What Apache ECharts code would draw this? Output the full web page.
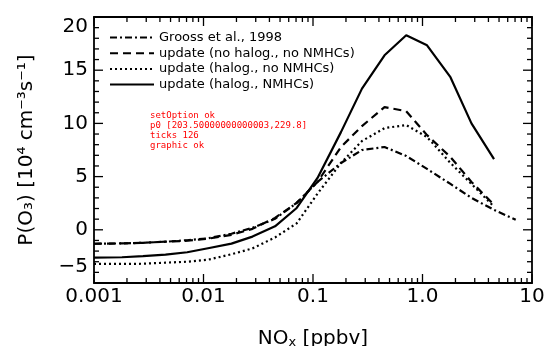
<!DOCTYPE html>
<html>
<head>
<meta charset="utf-8">
<script src="https://cdn.jsdelivr.net/npm/echarts@6/dist/echarts.min.js"></script>
<style>
  html, body { margin: 0; padding: 0; background: #fff; }
  #chart { width: 547px; height: 346px; background: #fff; }
  #log { position: absolute; left: 150px; top: 110px; width: 380px; font: 9px monospace; color: red; }
</style>
</head>
<body>
<div id="chart"></div>
<div id="log"></div>
<script>
function logMsg(m) { document.getElementById('log').innerHTML += String(m).slice(0, 300) + '<br>'; }
window.onerror = function (m) { logMsg('onerror: ' + m); };

// NOx grid [ppbv]
var nox = [0.001, 0.0018, 0.0028, 0.0045, 0.0071, 0.011, 0.018, 0.028, 0.045, 0.071,
           0.11, 0.18, 0.28, 0.45, 0.71, 1.1, 1.8, 2.8, 4.5, 7.1];
// P(O3) [10^4 cm^-3 s^-1]
var grooss1998 = [-1.31, -1.28, -1.22, -1.12, -0.98, -0.80, -0.37, 0.19, 1.03, 2.53,
                  4.5, 6.28, 7.5, 7.78, 6.94, 5.72, 4.31, 3.0, 1.87, 0.94];
var noHalogNoNmhc = [-1.31, -1.28, -1.22, -1.12, -1.03, -0.84, -0.47, 0.09, 1.12, 2.53,
                     4.5, 7.78, 9.75, 11.53, 11.15, 8.9, 6.84, 4.5, 2.34, null];
var halogNoNmhc = [-3.21, -3.21, -3.19, -3.09, -3.0, -2.81, -2.3, -1.75, -0.72, 0.61,
                   3.4, 6.28, 8.34, 9.56, 9.84, 8.72, 6.28, 4.31, 2.18, null];
var halogNmhc = [-2.62, -2.58, -2.48, -2.34, -2.11, -1.73, -1.3, -0.64, 0.33, 2.05,
                 4.87, 9.18, 13.27, 16.4, 18.28, 17.34, 14.34, 10.0, 6.65, null];

var seriesNames = ['Grooss et al., 1998', 'update (no halog., no NMHCs)',
                   'update (halog., no NMHCs)', 'update (halog., NMHCs)'];
var xTickLabels = ['0.001', '0.01', '0.1', '1.0', '10'];
var xMajor = [0.001, 0.01, 0.1, 1, 10];
var minorSteps = [2, 3, 4, 5, 6, 7, 8, 9];
var yMajor = [-5, 0, 5, 10, 15, 20];
var yMinor = [-4, -3, -2, -1, 1, 2, 3, 4, 6, 7, 8, 9, 11, 12, 13, 14, 16, 17, 18, 19];

var X0 = 0.001, X1 = 10, Y0 = -5, Y1 = 20;

function pairs(ys) {
    var out = [];
    for (var i = 0; i < nox.length; i++) {
        if (ys[i] !== null) out.push([nox[i], ys[i]]);
    }
    return out;
}

var xMinor = [];
for (var d = 0; d < 4; d++) {
    for (var m = 0; m < minorSteps.length; m++) xMinor.push(xMajor[d] * minorSteps[m]);
}

var FONT = 'DejaVu Sans';
var axisLineStyle = { color: '#000', width: 1.8 };

var chart = echarts.init(document.getElementById('chart'));
try {
chart.setOption({
    animation: false,
    grid: { left: 94, right: 15, top: 17, bottom: 63, outerBoundsMode: 'none' },
    legend: {
        orient: 'vertical',
        left: 109,
        top: 31,
        padding: 0,
        itemWidth: 44,
        itemHeight: 14,
        itemGap: 2.7,
        selectedMode: false,
        data: seriesNames,
        itemStyle: { opacity: 0 },
        textStyle: { fontFamily: FONT, fontSize: 13, color: '#000' }
    },
    xAxis: [{
        type: 'log',
        logBase: 10,
        min: X0,
        max: X1,
        axisLine: { show: true, onZero: false, lineStyle: axisLineStyle },
        axisTick: { show: false },
        splitLine: { show: false },
        axisLabel: {
            margin: 4,
            fontFamily: FONT,
            fontSize: 20,
            color: '#000',
            formatter: function (v) {
                return xTickLabels[Math.round(Math.log10(v)) + 3] || '';
            }
        },
        name: '{n|NO}{s|x}{n| [ppbv]}',
        nameLocation: 'middle',
        nameGap: 45,
        nameTextStyle: {
            rich: {
                n: { fontFamily: FONT, fontSize: 20, color: '#000' },
                s: { fontFamily: FONT, fontSize: 13, color: '#000', verticalAlign: 'bottom', padding: [8, 0, 0, 0] }
            }
        }
    }, {
        type: 'log',
        logBase: 10,
        min: X0,
        max: X1,
        position: 'top',
        axisLine: { show: true, onZero: false, lineStyle: axisLineStyle },
        axisTick: { show: false },
        axisLabel: { show: false },
        splitLine: { show: false }
    }],
    yAxis: [{
        type: 'value',
        min: Y0,
        max: Y1,
        interval: 5,
        axisLine: { show: true, onZero: false, lineStyle: axisLineStyle },
        axisTick: { show: false },
        splitLine: { show: false },
        axisLabel: {
            margin: 6,
            fontFamily: FONT,
            fontSize: 20,
            color: '#000',
            formatter: function (v) {
                var t = v < 0 ? '\u2212' + (-v) : '' + v;
                if (v === 20) return '{top|' + t + '}';
                if (v === -5) return '{bot|' + t + '}';
                return t;
            },
            rich: {
                top: { fontFamily: FONT, fontSize: 20, color: '#000', padding: [20, 0, 0, 0] },
                bot: { fontFamily: FONT, fontSize: 20, color: '#000', padding: [0, 0, 33, 0] }
            }
        },
        name: 'P(O\u2083) [10\u2074 cm\u207B\u00B3s\u207B\u00B9]',
        nameLocation: 'middle',
        nameGap: 57,
        nameTextStyle: { fontFamily: FONT, fontSize: 20, color: '#000' }
    }, {
        type: 'value',
        min: Y0,
        max: Y1,
        interval: 5,
        position: 'right',
        axisLine: { show: true, onZero: false, lineStyle: axisLineStyle },
        axisTick: { show: false },
        axisLabel: { show: false },
        splitLine: { show: false }
    }],
    series: [{
        name: seriesNames[0],
        type: 'line',
        symbol: 'none',
        data: pairs(grooss1998),
        lineStyle: { color: '#000', width: 2.2, type: [7, 3, 2, 3] },
        itemStyle: { color: '#000' }
    }, {
        name: seriesNames[1],
        type: 'line',
        symbol: 'none',
        data: pairs(noHalogNoNmhc),
        lineStyle: { color: '#000', width: 2.2, type: [8, 5] },
        itemStyle: { color: '#000' }
    }, {
        name: seriesNames[2],
        type: 'line',
        symbol: 'none',
        data: pairs(halogNoNmhc),
        lineStyle: { color: '#000', width: 2.2, type: [2, 3] },
        itemStyle: { color: '#000' }
    }, {
        name: seriesNames[3],
        type: 'line',
        symbol: 'none',
        data: pairs(halogNmhc),
        lineStyle: { color: '#000', width: 2.2 },
        itemStyle: { color: '#000' }
    }]
});
logMsg('setOption ok');
} catch (e) {
    logMsg('setOption threw: ' + e.message + ' / ' + (e.stack || '').slice(0, 200));
}

var ticks = [];
function addTick(x, y, dx, dy) {
    var p = chart.convertToPixel({ xAxisIndex: 0, yAxisIndex: 0 }, [x, y]);
    if (!p || isNaN(p[0]) || isNaN(p[1])) return;
    ticks.push({
        type: 'line',
        silent: true,
        z: 10,
        shape: { x1: p[0], y1: p[1], x2: p[0] + dx, y2: p[1] + dy },
        style: { stroke: '#000', lineWidth: 1.3 }
    });
}
try {
    var p0 = chart.convertToPixel({ xAxisIndex: 0, yAxisIndex: 0 }, [0.01, 0]);
    logMsg('p0 ' + JSON.stringify(p0));
    xMajor.forEach(function (x) { addTick(x, Y0, 0, -9); addTick(x, Y1, 0, 9); });
    xMinor.forEach(function (x) { addTick(x, Y0, 0, -5); addTick(x, Y1, 0, 5); });
    yMajor.forEach(function (y) { addTick(X0, y, 9, 0); addTick(X1, y, -9, 0); });
    yMinor.forEach(function (y) { addTick(X0, y, 5, 0); addTick(X1, y, -5, 0); });
    logMsg('ticks ' + ticks.length);
    chart.setOption({ graphic: { elements: ticks } });
    logMsg('graphic ok');
} catch (e) {
    logMsg('ticks threw: ' + e.message + ' / ' + (e.stack || '').slice(0, 200));
}
</script>
</body>
</html>
